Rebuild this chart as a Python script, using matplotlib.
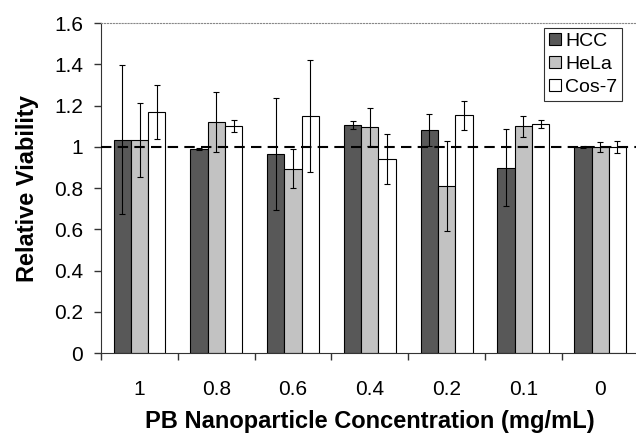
import numpy as np
import matplotlib.pyplot as plt

plt.rcParams['font.family'] = ['Liberation Sans', 'DejaVu Sans']

# Concentration groups (mg/mL)
concs = ['1', '0.8', '0.6', '0.4', '0.2', '0.1', '0']
series = ['HCC', 'HeLa', 'Cos-7']

hcc = [1.035, 0.988, 0.965, 1.105, 1.081, 0.898, 1.0]
hcc_err = [0.36, 0.005, 0.27, 0.02, 0.077, 0.187, 0.005]
hela = [1.035, 1.12, 0.895, 1.096, 0.81, 1.10, 1.0]
hela_err = [0.18, 0.145, 0.094, 0.093, 0.22, 0.052, 0.025]
cos7 = [1.17, 1.102, 1.149, 0.94, 1.153, 1.11, 1.0]
cos7_err = [0.13, 0.028, 0.273, 0.122, 0.07, 0.018, 0.028]

fig = plt.figure(figsize=(6.36, 4.36), dpi=100)
ax = fig.add_axes([0.159, 0.19, 0.845, 0.757])

x = np.arange(len(concs))
w = 0.225
colors = ['#585858', '#c2c2c2', 'white']
for i, (vals, errs) in enumerate([(hcc, hcc_err), (hela, hela_err), (cos7, cos7_err)]):
    ax.bar(x + (i - 1) * w, vals, w, color=colors[i], edgecolor='black',
           linewidth=0.8, label=series[i], zorder=2)
    ax.errorbar(x + (i - 1) * w, vals, yerr=errs, fmt='none', ecolor='black',
                elinewidth=0.8, capsize=2, capthick=0.8, zorder=3)

ax.axhline(1, color='black', linestyle=(0, (5, 3)), linewidth=1.5, zorder=4)

ax.set_xlim(-0.5, len(concs) - 0.5)
ax.set_ylim(0, 1.6)
ax.set_yticks(np.arange(0, 1.61, 0.2))
ax.set_yticklabels(['0', '0.2', '0.4', '0.6', '0.8', '1', '1.2', '1.4', '1.6'])

# boundary ticks (major) and centred labels (minor)
ax.set_xticks(np.arange(-0.5, len(concs), 1.0))
ax.set_xticklabels([])
ax.set_xticks(x, minor=True)
ax.set_xticklabels(concs, minor=True)
ax.tick_params(axis='x', which='major', direction='out', length=5, width=1, color='#333333')
ax.tick_params(axis='x', which='minor', length=0, pad=19, labelsize=15)
ax.tick_params(axis='y', direction='out', length=5, width=1, color='#333333', pad=8, labelsize=15)

ax.spines['right'].set_visible(False)
ax.spines['top'].set_linestyle(':')
ax.spines['top'].set_color('#888888')
ax.spines['left'].set_color('#333333')
ax.spines['bottom'].set_color('#333333')

ax.set_ylabel('Relative Viability', fontsize=17, fontweight='bold', labelpad=11)
ax.set_xlabel('PB Nanoparticle Concentration (mg/mL)', fontsize=17, fontweight='bold', labelpad=8)

leg = ax.legend(loc='upper right', bbox_to_anchor=(0.97, 0.985), fontsize=14,
                frameon=True, fancybox=False, edgecolor='black', handlelength=0.6,
                handleheight=0.6, handletextpad=0.25, borderpad=0.25, labelspacing=0.3,
                borderaxespad=0)
leg.get_frame().set_linewidth(0.8)

fig.savefig('out.png', dpi=100)
